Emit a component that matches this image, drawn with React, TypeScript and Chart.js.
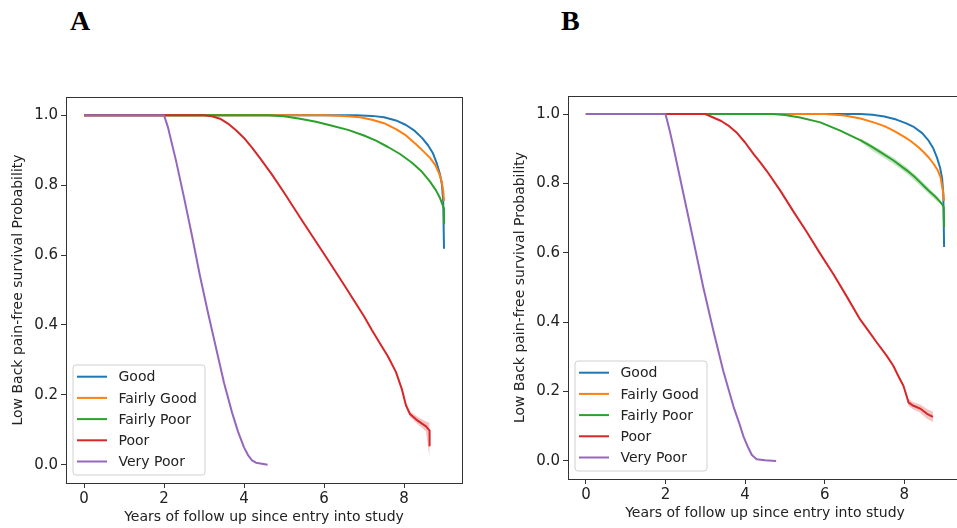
import React, { useEffect, useRef } from "react";
import { Chart, registerables } from "chart.js";

Chart.register(...registerables);

// ---------- shared labels ----------
const SERIES_LABELS = ["Good", "Fairly Good", "Fairly Poor", "Poor", "Very Poor"];
const SERIES_COLORS = ["#1f77b4", "#ff7f0e", "#2ca02c", "#d62728", "#9467bd"];
const X_TICKS = [0, 2, 4, 6, 8];
const Y_TICKS = [0, 0.2, 0.4, 0.6, 0.8, 1.0];
const X_TITLE = "Years of follow up since entry into study";
const Y_TITLE = "Low Back pain-free survival Probability";
const PANEL_TITLES = ["A", "B"];

// ---------- panel A ----------
const A_GOOD_T = [0, 6.8, 7.2, 7.5, 7.8, 8.05, 8.27, 8.45, 8.6, 8.72, 8.82, 8.9, 8.95, 8.98, 9.0];
const A_GOOD_P = [1, 1, 0.998, 0.994, 0.985, 0.972, 0.955, 0.935, 0.914, 0.892, 0.862, 0.831, 0.8, 0.755, 0.618];
const A_FGOOD_T = [0, 6.0, 6.5, 6.9, 7.2, 7.5, 7.8, 8.05, 8.3, 8.5, 8.65, 8.78, 8.88, 8.94, 8.98, 9.0];
const A_FGOOD_P = [1, 1, 0.998, 0.994, 0.987, 0.977, 0.96, 0.942, 0.917, 0.895, 0.878, 0.858, 0.833, 0.812, 0.784, 0.755];
const A_FPOOR_T = [0, 4.6, 5.0, 5.4, 5.8, 6.2, 6.6, 7.0, 7.3, 7.6, 7.9, 8.2, 8.45, 8.65, 8.8, 8.9, 8.96, 9.0, 9.0];
const A_FPOOR_P = [1, 1, 0.997, 0.99, 0.981, 0.97, 0.958, 0.942, 0.927, 0.909, 0.889, 0.864, 0.838, 0.81, 0.785, 0.763, 0.745, 0.732, 0.69];
const A_POOR_T = [0, 3.0, 3.2, 3.4, 3.6, 3.8, 4.0, 4.2, 4.4, 4.7, 5.0, 5.5, 6.06, 6.5, 7.0, 7.2, 7.4, 7.6, 7.8, 7.95, 8.05, 8.15, 8.3, 8.45, 8.55, 8.64, 8.64];
const A_POOR_P = [1, 1, 0.997, 0.99, 0.976, 0.957, 0.935, 0.907, 0.877, 0.83, 0.779, 0.69, 0.593, 0.515, 0.425, 0.385, 0.347, 0.31, 0.265, 0.215, 0.17, 0.145, 0.13, 0.118, 0.11, 0.098, 0.055];
const A_VPOOR_T = [0, 2.0, 2.1, 2.3, 2.5, 2.7, 2.9, 3.1, 3.3, 3.5, 3.7, 3.85, 4.0, 4.1, 4.2, 4.3, 4.45, 4.59];
const A_VPOOR_P = [1, 1, 0.965, 0.87, 0.765, 0.655, 0.54, 0.435, 0.335, 0.235, 0.15, 0.095, 0.05, 0.028, 0.013, 0.006, 0.003, 0.0];
// confidence band of "Poor" tail, panel A
const A_POOR_CI_T = [7.95, 8.05, 8.15, 8.3, 8.45, 8.55, 8.64];
const A_POOR_CI_HI = [0.222, 0.178, 0.153, 0.14, 0.13, 0.124, 0.12];
const A_POOR_CI_LO = [0.208, 0.162, 0.137, 0.12, 0.106, 0.095, 0.02];

// ---------- panel B ----------
const B_GOOD_T = [0, 6.9, 7.2, 7.5, 7.8, 8.05, 8.25, 8.45, 8.6, 8.72, 8.82, 8.9, 8.95, 8.98, 9.0];
const B_GOOD_P = [1, 1, 0.998, 0.993, 0.984, 0.973, 0.962, 0.945, 0.925, 0.903, 0.875, 0.845, 0.815, 0.77, 0.617];
const B_FGOOD_T = [0, 6.0, 6.5, 6.9, 7.23, 7.5, 7.73, 8.0, 8.15, 8.35, 8.49, 8.62, 8.74, 8.84, 8.91, 8.97, 9.0];
const B_FGOOD_P = [1, 1, 0.996, 0.987, 0.976, 0.965, 0.952, 0.934, 0.923, 0.905, 0.89, 0.874, 0.856, 0.838, 0.818, 0.779, 0.75];
const B_FPOOR_T = [0, 4.7, 5.0, 5.38, 5.89, 6.39, 6.89, 7.15, 7.4, 7.73, 8.07, 8.25, 8.4, 8.55, 8.65, 8.77, 8.87, 8.95, 8.99, 9.0];
const B_FPOOR_P = [1, 1, 0.997, 0.99, 0.976, 0.952, 0.925, 0.908, 0.89, 0.866, 0.837, 0.82, 0.803, 0.786, 0.775, 0.763, 0.751, 0.74, 0.732, 0.674];
const B_POOR_T = [0, 3.0, 3.2, 3.4, 3.6, 3.8, 4.0, 4.21, 4.4, 4.55, 4.88, 5.22, 5.55, 5.89, 6.22, 6.56, 6.89, 7.1, 7.3, 7.56, 7.72, 7.85, 7.98, 8.05, 8.11, 8.23, 8.4, 8.57, 8.72];
const B_POOR_P = [1, 1, 0.99, 0.98, 0.965, 0.945, 0.918, 0.885, 0.858, 0.835, 0.78, 0.718, 0.66, 0.597, 0.538, 0.473, 0.408, 0.375, 0.343, 0.303, 0.275, 0.245, 0.216, 0.19, 0.168, 0.159, 0.151, 0.136, 0.127];
const B_VPOOR_T = [0, 2.0, 2.1, 2.2, 2.45, 2.7, 2.95, 3.2, 3.45, 3.71, 3.85, 3.96, 4.08, 4.17, 4.29, 4.5, 4.78];
const B_VPOOR_P = [1, 1, 0.955, 0.904, 0.77, 0.636, 0.5, 0.377, 0.26, 0.156, 0.11, 0.07, 0.038, 0.017, 0.005, 0.002, 0.0];
// confidence bands, panel B
const B_FPOOR_CI_T = [6.9, 7.15, 7.4, 7.73, 8.07, 8.4, 8.65, 8.87];
const B_FPOOR_CI_HI = [0.93, 0.914, 0.897, 0.874, 0.846, 0.812, 0.783, 0.758];
const B_FPOOR_CI_LO = [0.92, 0.898, 0.88, 0.856, 0.827, 0.793, 0.766, 0.743];
const B_POOR_CI_T = [8.0, 8.05, 8.11, 8.23, 8.4, 8.57, 8.72];
const B_POOR_CI_HI = [0.215, 0.198, 0.178, 0.169, 0.163, 0.15, 0.142];
const B_POOR_CI_LO = [0.203, 0.182, 0.158, 0.148, 0.139, 0.122, 0.112];

const pts = (ts: number[], ps: number[]) => ts.map((t, i) => ({ x: t, y: ps[i] }));

const FONT = "'DejaVu Sans', 'Liberation Sans', sans-serif";
const TEXT_COLOR = "#222222";

function hexA(hex: string, a: number) {
  const n = parseInt(hex.slice(1), 16);
  return `rgba(${(n >> 16) & 255},${(n >> 8) & 255},${n & 255},${a})`;
}

function lineDs(label: string, idx: number, ts: number[], ps: number[]) {
  return {
    label,
    data: pts(ts, ps),
    borderColor: SERIES_COLORS[idx],
    backgroundColor: SERIES_COLORS[idx],
    borderWidth: 2,
    borderJoinStyle: "round" as const,
    pointRadius: 0,
    tension: 0,
    fill: false,
    order: 10 - idx,
  };
}

function bandDs(idx: number, ts: number[], hi: number[], lo: number[]) {
  return [
    {
      label: "_band_hi",
      data: pts(ts, hi),
      borderWidth: 0,
      borderColor: "rgba(0,0,0,0)",
      backgroundColor: hexA(SERIES_COLORS[idx], 0.28),
      pointRadius: 0,
      tension: 0,
      fill: "+1",
      order: 20,
    },
    {
      label: "_band_lo",
      data: pts(ts, lo),
      borderWidth: 0,
      borderColor: "rgba(0,0,0,0)",
      backgroundColor: "rgba(0,0,0,0)",
      pointRadius: 0,
      tension: 0,
      fill: false,
      order: 20,
    },
  ];
}

const framePlugin = {
  id: "frame",
  afterDraw(chart: any) {
    const { ctx, chartArea: a } = chart;
    ctx.save();
    ctx.strokeStyle = "#333333";
    ctx.lineWidth = 1;
    const l = Math.round(a.left) + 0.5;
    const t = Math.round(a.top) + 0.5;
    const r = Math.round(a.right) + 0.5;
    const b = Math.round(a.bottom) + 0.5;
    ctx.strokeRect(l, t, r - l, b - t);
    ctx.restore();
  },
};

const legendPlugin = {
  id: "kmLegend",
  afterDraw(chart: any) {
    const { ctx, chartArea: a } = chart;
    const boxW = 132;
    const boxH = 110;
    const x0 = a.left + 7;
    const y0 = a.bottom - 8 - boxH;
    ctx.save();
    ctx.beginPath();
    const r = 3;
    ctx.moveTo(x0 + r, y0);
    ctx.lineTo(x0 + boxW - r, y0);
    ctx.arcTo(x0 + boxW, y0, x0 + boxW, y0 + r, r);
    ctx.lineTo(x0 + boxW, y0 + boxH - r);
    ctx.arcTo(x0 + boxW, y0 + boxH, x0 + boxW - r, y0 + boxH, r);
    ctx.lineTo(x0 + r, y0 + boxH);
    ctx.arcTo(x0, y0 + boxH, x0, y0 + boxH - r, r);
    ctx.lineTo(x0, y0 + r);
    ctx.arcTo(x0, y0, x0 + r, y0, r);
    ctx.closePath();
    ctx.fillStyle = "rgba(255,255,255,0.85)";
    ctx.fill();
    ctx.strokeStyle = "#d0d0d0";
    ctx.lineWidth = 1;
    ctx.stroke();
    ctx.font = `14px ${FONT}`;
    ctx.textBaseline = "middle";
    ctx.textAlign = "left";
    SERIES_LABELS.forEach((lab, i) => {
      const cy = y0 + 11.7 + i * 21.2;
      ctx.strokeStyle = SERIES_COLORS[i];
      ctx.lineWidth = 2;
      ctx.beginPath();
      ctx.moveTo(x0 + 4, cy);
      ctx.lineTo(x0 + 34, cy);
      ctx.stroke();
      ctx.fillStyle = TEXT_COLOR;
      ctx.fillText(lab, x0 + 45.5, cy + 1);
    });
    ctx.restore();
  },
};

function makeConfig(datasets: any[], padding: any) {
  return {
    type: "line" as const,
    data: { datasets },
    plugins: [framePlugin, legendPlugin],
    options: {
      animation: false as const,
      responsive: false,
      devicePixelRatio: 1,
      layout: { padding },
      plugins: { legend: { display: false }, tooltip: { enabled: false } },
      scales: {
        x: {
          type: "linear" as const,
          min: -0.45,
          max: 9.45,
          afterBuildTicks: (s: any) => {
            s.ticks = X_TICKS.map((v) => ({ value: v }));
          },
          afterFit: (s: any) => {
            s.height = 45;
          },
          border: { display: false },
          grid: { display: true, drawOnChartArea: false, drawTicks: true, tickLength: 5, color: "#333333", lineWidth: 1 },
          ticks: {
            padding: 2,
            color: TEXT_COLOR,
            font: { family: FONT, size: 15 },
            maxRotation: 0,
            callback: (v: any) => String(v),
          },
          title: {
            display: true,
            text: X_TITLE,
            color: TEXT_COLOR,
            font: { family: FONT, size: 14 },
            padding: { top: 0, bottom: 2 },
          },
        },
        y: {
          type: "linear" as const,
          min: -0.052,
          max: 1.052,
          afterBuildTicks: (s: any) => {
            s.ticks = Y_TICKS.map((v) => ({ value: v }));
          },
          afterFit: (s: any) => {
            s.width = 66;
          },
          border: { display: false },
          grid: { display: true, drawOnChartArea: false, drawTicks: true, tickLength: 5, color: "#333333", lineWidth: 1 },
          ticks: {
            padding: 3,
            color: TEXT_COLOR,
            font: { family: FONT, size: 15 },
            callback: (v: any) => Number(v).toFixed(1),
          },
          title: {
            display: true,
            text: Y_TITLE,
            color: TEXT_COLOR,
            font: { family: FONT, size: 14 },
            padding: { top: 10, bottom: 0 },
          },
        },
      },
    },
  };
}

function Panel(props: { left: number; top: number; width: number; height: number; padding: any; datasets: any[] }) {
  const ref = useRef<HTMLCanvasElement>(null);
  useEffect(() => {
    const chart = new Chart(ref.current as HTMLCanvasElement, makeConfig(props.datasets, props.padding) as any);
    return () => chart.destroy();
  }, []);
  return (
    <canvas
      ref={ref}
      width={props.width}
      height={props.height}
      style={{ position: "absolute", left: props.left, top: props.top, width: props.width, height: props.height, display: "block" }}
    />
  );
}

const datasetsA = [
  lineDs(SERIES_LABELS[0], 0, A_GOOD_T, A_GOOD_P),
  lineDs(SERIES_LABELS[1], 1, A_FGOOD_T, A_FGOOD_P),
  lineDs(SERIES_LABELS[2], 2, A_FPOOR_T, A_FPOOR_P),
  lineDs(SERIES_LABELS[3], 3, A_POOR_T, A_POOR_P),
  lineDs(SERIES_LABELS[4], 4, A_VPOOR_T, A_VPOOR_P),
  ...bandDs(3, A_POOR_CI_T, A_POOR_CI_HI, A_POOR_CI_LO),
];

const datasetsB = [
  lineDs(SERIES_LABELS[0], 0, B_GOOD_T, B_GOOD_P),
  lineDs(SERIES_LABELS[1], 1, B_FGOOD_T, B_FGOOD_P),
  lineDs(SERIES_LABELS[2], 2, B_FPOOR_T, B_FPOOR_P),
  lineDs(SERIES_LABELS[3], 3, B_POOR_T, B_POOR_P),
  lineDs(SERIES_LABELS[4], 4, B_VPOOR_T, B_VPOOR_P),
  ...bandDs(2, B_FPOOR_CI_T, B_FPOOR_CI_HI, B_FPOOR_CI_LO),
  ...bandDs(3, B_POOR_CI_T, B_POOR_CI_HI, B_POOR_CI_LO),
];

const letterStyle: React.CSSProperties = {
  position: "absolute",
  top: 7,
  fontFamily: "'Liberation Serif', 'Times New Roman', serif",
  fontWeight: "bold",
  fontSize: 28,
  lineHeight: "28px",
  color: "#000",
};

export default function App() {
  return (
    <div style={{ position: "absolute", left: 0, top: 0, width: 957, height: 528, overflow: "hidden", background: "#fff" }}>
      <div style={{ ...letterStyle, left: 70 }}>{PANEL_TITLES[0]}</div>
      <div style={{ ...letterStyle, left: 561 }}>{PANEL_TITLES[1]}</div>
      <Panel left={0} top={60} width={480} height={468} padding={{ left: 0, top: 37, right: 18, bottom: 0 }} datasets={datasetsA} />
      <Panel left={502} top={60} width={470} height={464} padding={{ left: 0, top: 36, right: 10, bottom: 0 }} datasets={datasetsB} />
    </div>
  );
}
